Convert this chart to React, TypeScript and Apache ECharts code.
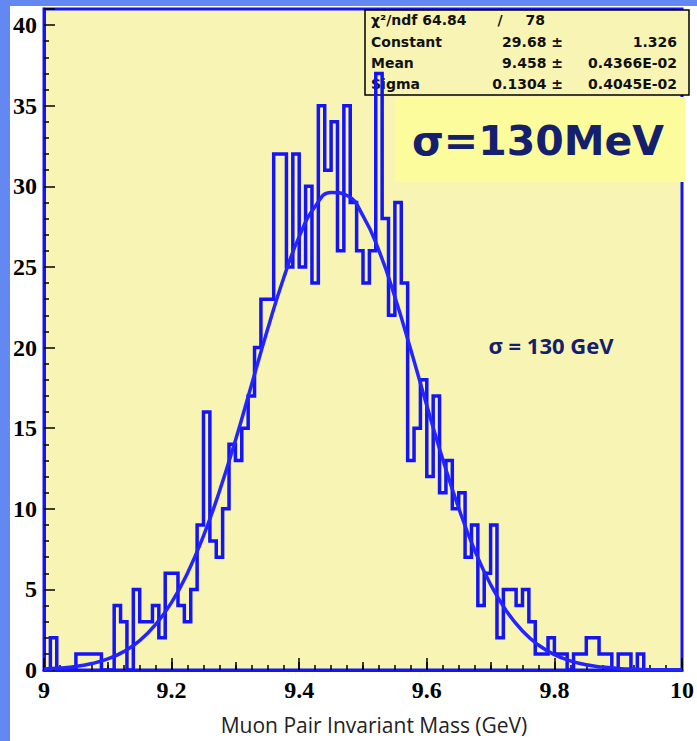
import React, { useEffect, useRef } from "react";
import * as echarts from "echarts";

// Histogram: 100 bins of 0.01 GeV from 9.00 to 10.00 (counts per bin)
const binLowEdges = [
  9.0, 9.01, 9.02, 9.03, 9.04, 9.05, 9.06, 9.07, 9.08, 9.09,
  9.1, 9.11, 9.12, 9.13, 9.14, 9.15, 9.16, 9.17, 9.18, 9.19,
  9.2, 9.21, 9.22, 9.23, 9.24, 9.25, 9.26, 9.27, 9.28, 9.29,
  9.3, 9.31, 9.32, 9.33, 9.34, 9.35, 9.36, 9.37, 9.38, 9.39,
  9.4, 9.41, 9.42, 9.43, 9.44, 9.45, 9.46, 9.47, 9.48, 9.49,
  9.5, 9.51, 9.52, 9.53, 9.54, 9.55, 9.56, 9.57, 9.58, 9.59,
  9.6, 9.61, 9.62, 9.63, 9.64, 9.65, 9.66, 9.67, 9.68, 9.69,
  9.7, 9.71, 9.72, 9.73, 9.74, 9.75, 9.76, 9.77, 9.78, 9.79,
  9.8, 9.81, 9.82, 9.83, 9.84, 9.85, 9.86, 9.87, 9.88, 9.89,
  9.9, 9.91, 9.92, 9.93, 9.94, 9.95, 9.96, 9.97, 9.98, 9.99,
];
const histUpperEdge = 10.0;
const counts = [
  0, 2, 0, 0, 0, 1, 1, 1, 1, 0,
  0, 4, 3, 0, 5, 3, 3, 4, 2, 6,
  6, 4, 3, 5, 9, 16, 8, 7, 10, 14,
  13, 15, 17, 20, 23, 23, 32, 32, 25, 32,
  25, 30, 24, 35, 31, 34, 26, 35, 29, 26,
  24, 26, 37, 28, 22, 29, 24, 13, 15, 18,
  12, 17, 11, 13, 10, 11, 7, 9, 4, 6,
  9, 2, 5, 5, 4, 5, 3, 1, 1, 2,
  1, 1, 0, 1, 1, 2, 2, 1, 1, 0,
  1, 1, 0, 1, 0, 0, 0, 0, 0, 0,
];

// Gaussian fit curve
const fitX = [
  9.0, 9.025, 9.05, 9.075, 9.1, 9.125, 9.15, 9.175, 9.2, 9.225,
  9.25, 9.275, 9.3, 9.325, 9.35, 9.375, 9.4, 9.425, 9.45, 9.475,
  9.5, 9.525, 9.55, 9.575, 9.6, 9.625, 9.65, 9.675, 9.7, 9.725,
  9.75, 9.775, 9.8, 9.825, 9.85, 9.875, 9.9, 9.925, 9.95, 9.975, 10.0,
];
const fitY = [
  0.06, 0.12, 0.22, 0.4, 0.69, 1.14, 1.82, 2.82, 4.19, 6.02,
  8.32, 11.09, 14.24, 17.65, 21.07, 24.24, 26.88, 28.75, 29.62, 29.43,
  28.17, 26.01, 23.14, 19.85, 16.4, 13.07, 10.04, 7.43, 5.3, 3.65,
  2.42, 1.55, 0.95, 0.57, 0.32, 0.18, 0.1, 0.05, 0.02, 0.01, 0.005,
];

const xTickLabels = ["9", "9.2", "9.4", "9.6", "9.8", "10"];
const xTitle = "Muon Pair Invariant Mass (GeV)";

const statsNames = ["Constant", "Mean", "Sigma"];
const statsValues = ["29.68 \u00b1", "9.458 \u00b1", "0.1304 \u00b1"];
const statsErrors = ["1.326", "0.4366E-02", "0.4045E-02"];
const chi2Text = "\u03c7\u00b2/ndf 64.84";
const ndfText = "78";

const bigNote = "\u03c3=130MeV";
const smallNote = "\u03c3 = 130 GeV";

const BLUE = "#1414f5";
const NAVY = "#14206e";

export default function App() {
  const ref = useRef<HTMLDivElement>(null);

  useEffect(() => {
    if (!ref.current) return;
    const chart = echarts.init(ref.current, undefined, { renderer: "svg" });

    const histData: number[][] = binLowEdges.map((x, i) => [x, counts[i]]);
    histData.push([histUpperEdge, counts[counts.length - 1]]);
    const fitData = fitX.map((x, i) => [x, fitY[i]]);

    const statFont = { fontFamily: "DejaVu Sans", fontWeight: "bold", fontSize: 14, fill: "#111" };
    const rowY = [20, 42, 63, 84];

    const graphics: any[] = [
      { type: "rect", z: -10, shape: { x: 10, y: 6, width: 687, height: 735 }, style: { fill: "#ffffff" } },
      { type: "rect", z: 1, shape: { x: 365, y: 10, width: 324, height: 85 }, style: { fill: "#f8f5b4", stroke: "#000", lineWidth: 1.5 } },
      { type: "text", z: 1, style: { ...statFont, text: chi2Text, x: 371, y: rowY[0], align: "left", textAlign: "left", verticalAlign: "middle", textVerticalAlign: "middle" } },
      { type: "text", z: 1, style: { ...statFont, text: "/", x: 500, y: rowY[0], align: "center", textAlign: "center", verticalAlign: "middle", textVerticalAlign: "middle" } },
      { type: "text", z: 1, style: { ...statFont, text: ndfText, x: 545, y: rowY[0], align: "right", textAlign: "right", verticalAlign: "middle", textVerticalAlign: "middle" } },
      { type: "rect", z: 1, shape: { x: 395, y: 97, width: 290, height: 85 }, style: { fill: "#fdfc9c" } },
      { type: "text", z: 1, style: { text: bigNote, x: 538, y: 141, fill: NAVY, fontFamily: "DejaVu Sans", fontWeight: "bold", fontSize: 41, align: "center", textAlign: "center", verticalAlign: "middle", textVerticalAlign: "middle" } },
      { type: "text", z: 1, style: { text: smallNote, x: 551, y: 345, fill: NAVY, fontFamily: "Open Sans", fontWeight: "bold", fontSize: 22, align: "center", textAlign: "center", verticalAlign: "middle", textVerticalAlign: "middle" } },
      { type: "text", z: 1, style: { text: xTitle, x: 374, y: 725, fill: "#222", fontFamily: "Open Sans", fontSize: 21, align: "center", textAlign: "center", verticalAlign: "middle", textVerticalAlign: "middle" } },
    ];
    statsNames.forEach((name, i) => {
      const y = rowY[i + 1];
      graphics.push({ type: "text", z: 1, style: { ...statFont, text: name, x: 371, y, align: "left", textAlign: "left", verticalAlign: "middle", textVerticalAlign: "middle" } });
      graphics.push({ type: "text", z: 1, style: { ...statFont, text: statsValues[i], x: 563, y, align: "right", textAlign: "right", verticalAlign: "middle", textVerticalAlign: "middle" } });
      graphics.push({ type: "text", z: 1, style: { ...statFont, text: statsErrors[i], x: 677, y, align: "right", textAlign: "right", verticalAlign: "middle", textVerticalAlign: "middle" } });
    });

    const tickLine = { color: "#000", width: 1.5 };
    const labelFont = { fontFamily: "Liberation Serif", fontWeight: "bold" as const, fontSize: 24, color: "#000" };

    chart.setOption({
      animation: false,
      backgroundColor: "#6488f2",
      grid: {
        left: 44, right: 7, top: 9, bottom: 71,
        show: true, backgroundColor: "#f8f5b4", borderColor: BLUE, borderWidth: 3,
      },
      xAxis: [
        {
          type: "value", min: 9, max: 10, interval: 0.2,
          axisLine: { show: true, onZero: false, lineStyle: { color: BLUE, width: 3 } },
          axisTick: { show: true, inside: true, length: 12, lineStyle: tickLine },
          minorTick: { show: true, splitNumber: 8, length: 5, lineStyle: tickLine },
          splitLine: { show: false },
          minorSplitLine: { show: false },
          axisLabel: {
            ...labelFont, margin: 8,
            formatter: (v: number) => {
              const idx = Math.round((v - 9) / 0.2);
              return xTickLabels[idx] ?? "";
            },
          },
        },
        {
          type: "value", position: "bottom", min: 9, max: 10, interval: 0.1,
          axisLine: { show: false },
          axisTick: { show: true, inside: true, length: 8, lineStyle: tickLine },
          axisLabel: { show: false },
          splitLine: { show: false },
        },
      ],
      yAxis: {
        type: "value", min: 0, max: 41, interval: 5,
        axisLine: { show: true, onZero: false, lineStyle: { color: BLUE, width: 3 } },
        axisTick: { show: true, inside: true, length: 11, lineStyle: tickLine },
        minorTick: { show: true, splitNumber: 5, length: 5, lineStyle: tickLine },
        splitLine: { show: false },
        minorSplitLine: { show: false },
        axisLabel: {
          ...labelFont, margin: 7,
          formatter: (v: number) => (Math.abs(v % 5) < 1e-9 ? String(v) : ""),
        },
      },
      graphic: graphics,
      series: [
        {
          type: "line", xAxisIndex: 0, step: "end", data: histData,
          symbol: "none", showSymbol: false, z: 3,
          lineStyle: { color: BLUE, width: 3.5, join: "miter" },
        },
        {
          type: "line", xAxisIndex: 0, smooth: true, data: fitData,
          symbol: "none", showSymbol: false, z: 4,
          lineStyle: { color: "#2424ff", width: 3.5 },
        },
      ],
    });

    return () => chart.dispose();
  }, []);

  return (
    <div
      ref={ref}
      style={{ position: "fixed", left: 0, top: 0, width: 697, height: 741 }}
    />
  );
}
